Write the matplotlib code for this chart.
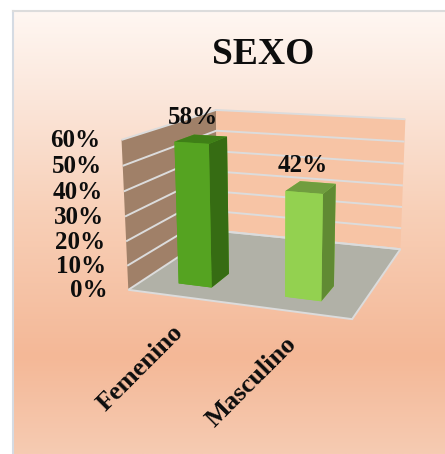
import numpy as np
import matplotlib
matplotlib.use('Agg')
import matplotlib.pyplot as plt
from matplotlib.colors import LinearSegmentedColormap
from mpl_toolkits.mplot3d import proj3d

# datos del grafico
categorias = ['Femenino', 'Masculino']
valores = [58, 42]
ticks_z = [0, 10, 20, 30, 40, 50, 60]
etiquetas_z = ['0%', '10%', '20%', '30%', '40%', '50%', '60%']
titulo = 'SEXO'

# caras de cada barra: abajo, arriba, -y, +y, -x, +x
colores_barras = [
    ['#55a321', '#3f7f17', '#55a321', '#55a321', '#55a321', '#366c13'],
    ['#93d150', '#709d3f', '#93d150', '#93d150', '#93d150', '#608a33'],
]

W, H = 445, 454
plt.rcParams['font.family'] = ['Liberation Serif', 'DejaVu Serif']
plt.rcParams['font.weight'] = 'bold'
plt.rcParams['grid.color'] = '#dcdcdc'
plt.rcParams['grid.linewidth'] = 1.4

fig = plt.figure(figsize=(W / 100, H / 100), dpi=100, facecolor='white')

# fondo con degradado
fondo = fig.add_axes([13 / W, 0, 1 - 13 / W, 1 - 11 / H])
cmap = LinearSegmentedColormap.from_list('fondo', [
    (0.0, '#fff7f2'), (0.2, '#fbe6da'), (0.45, '#f8d0b8'),
    (0.78, '#f4b897'), (1.0, '#f6cbb2')])
fondo.imshow(np.linspace(0, 1, 256).reshape(-1, 1), aspect='auto', cmap=cmap, vmin=0, vmax=1)
fondo.set_xticks([])
fondo.set_yticks([])
fondo.spines['right'].set_visible(False)
fondo.spines['bottom'].set_visible(False)
fondo.spines['top'].set_color('#dcdcdc')
fondo.spines['left'].set_color('#d5dbe3')
fondo.spines['top'].set_linewidth(1.5)
fondo.spines['left'].set_linewidth(1.5)

# camara ajustada a las esquinas de la caja
lado = 326.9
izq, abajo = 106.6, H - 367.7
ax = fig.add_axes([izq / W, abajo / H, lado / W, lado / H], projection='3d')
ax.set_facecolor('none')
ax.view_init(elev=13.91, azim=-70.47)
ax.set_proj_type('persp', focal_length=0.4653)
ax.set_box_aspect((1.5157, 1.4891, 1.0))

x = np.arange(len(categorias))
ancho = 0.32
ax.set_xlim(-0.5, 1.5, view_margin=0)
ax.set_ylim(0, 1, view_margin=0)
ax.set_zlim(0, 60, view_margin=0)

ax.xaxis.set_pane_color('#a08068')
ax.yaxis.set_pane_color('#f7c4a5')
ax.zaxis.set_pane_color('#b1b1a7')
ax.zaxis.pane.set_edgecolor('#dcdcdc')
ax.zaxis.pane.set_linewidth(1.4)
ax.xaxis.pane.set_edgecolor('none')
ax.yaxis.pane.set_edgecolor('none')

for eje in [ax.xaxis, ax.yaxis, ax.zaxis]:
    eje.line.set_color('none')
ax.set_xticks([])
ax.set_yticks([])
ax.set_zticks(ticks_z)
ax.set_zticklabels([])
ax.tick_params(axis='z', length=0, pad=0)
ax.zaxis._axinfo['tick']['inward_factor'] = 0
ax.zaxis._axinfo['tick']['outward_factor'] = 0

for i, v in enumerate(valores):
    ax.bar3d(x[i] - ancho / 2, 0.15, 0, ancho, 0.2, v, color=colores_barras[i], shade=False, linewidth=0)

M = ax.get_proj()

def a_2d(px, py, pz):
    xp, yp, _ = proj3d.proj_transform(px, py, pz, M)
    return xp, yp

# etiquetas del eje de valores
for t, et in zip(ticks_z, etiquetas_z):
    ax.annotate(et, a_2d(-0.5, 0, t), xytext=(-21, -1), textcoords='offset pixels',
                ha='right', va='center', fontsize=18, color='#0d0d0d', zorder=50, annotation_clip=False)

# etiquetas de categoria
for i, c in enumerate(categorias):
    ax.annotate(c, a_2d(x[i], 0, 0), xytext=(-40 - i, -71), textcoords='offset pixels',
                ha='center', va='center', rotation=45, rotation_mode='anchor', fontsize=19,
                color='#0d0d0d', zorder=50, annotation_clip=False)

# etiquetas de datos
for i, v in enumerate(valores):
    ax.annotate(f'{v}%', a_2d(x[i], 0.25, v), xytext=(-8, 10), textcoords='offset pixels',
                ha='center', va='bottom', fontsize=18, color='#0d0d0d', zorder=50, annotation_clip=False)

fig.text(263 / W, 1 - 55 / H, titulo, ha='center', va='center', fontsize=27, color='#0d0d0d')

fig.savefig('out.png', dpi=100)
